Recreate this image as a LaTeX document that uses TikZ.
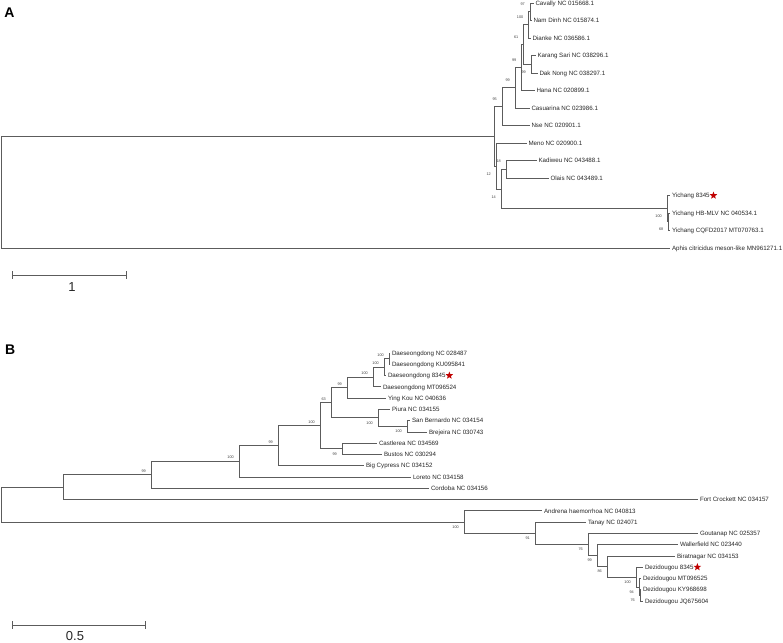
\documentclass[tikz,border=0pt]{standalone}
\usepackage{fontspec}
\setmainfont{Liberation Sans}
\usetikzlibrary{calc, shapes.geometric}

\definecolor{branchgray}{HTML}{5C5C5C}
\definecolor{starred}{HTML}{C00000}

\begin{document}
\begin{tikzpicture}[x=1pt, y=-1pt,
		branch/.style = {draw=branchgray, line width=0.8pt},
		taxon/.style = {anchor=west, inner xsep=1.8pt, inner ysep=0pt, text height=4.5pt, text depth=0pt, text=black!85, font=\fontsize{6.2}{7}\selectfont},
		taxonB/.style = {taxon, text height=4.4pt, font=\fontsize{6.2}{7}\selectfont},
		boot/.style = {anchor=east, inner sep=0pt, text=black!75, font=\fontsize{3.8}{4}\selectfont, xshift=-5pt},
		bootup/.style = {boot, yshift=7.6pt},
		bootdown/.style = {boot, yshift=-7.8pt},
		bootupB/.style = {boot, yshift=3.8pt},
		bootdownB/.style = {boot, yshift=-5pt},
		starmark/.style = {star, star points=5, star point ratio=2.4, fill=starred, inner sep=0pt, minimum size=8pt, anchor=west},
		panel/.style = {inner sep=0pt, font=\fontsize{14}{14}\selectfont\bfseries},
		barlabel/.style = {inner sep=0pt, text=black!85, font=\fontsize{13}{13}\selectfont}
	]
	\useasboundingbox (0,0) rectangle (783,642);

	% ---------- A ----------
	\node[panel] (labA) at (9.5,13) {A};

	\begin{scope}
		\node[taxon] (cavally)   at (533.5,3)     {Cavally NC 015668.1};
		\node[taxon] (namdinh)   at (531.5,20.5)  {Nam Dinh NC 015874.1};
		\node[taxon] (dianke)    at (530.5,38)    {Dianke NC 036586.1};
		\node[taxon] (karang)    at (535.5,55.5)  {Karang Sari NC 038296.1};
		\node[taxon] (daknong)   at (537.5,73)    {Dak Nong NC 038297.1};
		\node[taxon] (hana)      at (534.5,90.5)  {Hana NC 020899.1};
		\node[taxon] (casuarina) at (529.5,108)   {Casuarina NC 023986.1};
		\node[taxon] (nse)       at (529.5,125.5) {Nse NC 020901.1};
		\node[taxon] (meno)      at (526.5,143)   {Meno NC 020900.1};
		\node[taxon] (kadiweu)   at (536.5,160.5) {Kadiweu NC 043488.1};
		\node[taxon] (olais)     at (548.5,178)   {Olais NC 043489.1};
		\node[taxon] (yich)      at (670,195.5)   {Yichang 8345};
		\node[taxon] (yichHB)    at (670,213)     {Yichang HB-MLV NC 040534.1};
		\node[taxon] (yichCQ)    at (670,230.5)   {Yichang CQFD2017 MT070763.1};
		\node[taxon] (aphis)     at (670,248)     {Aphis citricidus meson-like MN961271.1};
		\node[starmark] (starA) at ([xshift=-0.8pt]yich.east) {};
	\end{scope}

	\coordinate (rootA) at (1,192.15);
	\coordinate (topA)  at (494,136.3);
	\coordinate (n95)   at (502,106.65);
	\coordinate (n99c)  at (515,87.8);
	\coordinate (n99b)  at (521.5,67.55);
	\coordinate (n61)   at (523.5,44.6);
	\coordinate (nCND)  at (528.5,24.9);
	\coordinate (nCN)   at (530,11.75);
	\coordinate (nKD)   at (531,64.25);
	\coordinate (n12)   at (496,165.95);
	\coordinate (n14)   at (501,188.9);
	\coordinate (nKO)   at (506,169.25);
	\coordinate (nY8)   at (667,208.6);
	\coordinate (nYC)   at (668.5,221.75);

	\begin{scope}[branch]
		\draw (rootA) |- (topA) (rootA) |- (aphis);
		\draw (topA) |- (n95) (topA) |- (n12);
		\draw (n95) |- (n99c) (n95) |- (nse);
		\draw (n99c) |- (n99b) (n99c) |- (casuarina);
		\draw (n99b) |- (n61) (n99b) |- (hana);
		\draw (n61) |- (nCND) (n61) |- (nKD);
		\draw (nCND) |- (nCN) (nCND) |- (dianke);
		\draw (nCN) |- (cavally) (nCN) |- (namdinh);
		\draw (nKD) |- (karang) (nKD) |- (daknong);
		\draw (n12) |- (meno) (n12) |- (n14);
		\draw (n14) |- (nKO) (n14) |- (nY8);
		\draw (nKO) |- (kadiweu) (nKO) |- (olais);
		\draw (nY8) |- (yich) (nY8) |- (nYC);
		\draw (nYC) |- (yichHB) (nYC) |- (yichCQ);
	\end{scope}

	\node[bootup]   at (nCN)  {97};
	\node[bootup]   at (nCND) {100};
	\node[bootup]   at (n61)  {61};
	\node[bootup]   at (n99b) {99};
	\node[bootdown] at (nKD)  {99};
	\node[bootup]   at (n99c) {99};
	\node[bootup]   at (n95)  {95};
	\node[bootup]   at (nKO)  {18};
	\node[bootdown] at (n12)  {12};
	\node[bootdown] at (n14)  {14};
	\node[bootdown] at (nY8)  {100};
	\node[bootdown] at (nYC)  {68};

	\coordinate (barA1) at (12,275);
	\coordinate (barA2) at (127,275);
	\begin{scope}[|-|]
		\draw[branch] (barA1) -- (barA2);
	\end{scope}
	\node[barlabel] (barAlab) at (72,287) {1};

	% ---------- B ----------
	\node[panel] (labB) at (10.3,350) {B};

	\begin{scope}
		\node[taxonB] (dae028)      at (390,353)   {Daeseongdong NC 028487};
		\node[taxonB] (daeKU)       at (390,364.3) {Daeseongdong KU095841};
		\node[taxonB] (dae8345)     at (386,375.5) {Daeseongdong 8345};
		\node[taxonB] (daeMT)       at (381,386.8) {Daeseongdong MT096524};
		\node[taxonB] (yingkou)     at (386,398.1) {Ying Kou NC 040636};
		\node[taxonB] (piura)       at (390,409.4) {Piura NC 034155};
		\node[taxonB] (sanbern)     at (410,420.6) {San Bernardo NC 034154};
		\node[taxonB] (brejeira)    at (427,431.9) {Brejeira NC 030743};
		\node[taxonB] (castlerea)   at (377,443.2) {Castlerea NC 034569};
		\node[taxonB] (bustos)      at (382,454.4) {Bustos NC 030294};
		\node[taxonB] (bigcypress)  at (364,465.7) {Big Cypress NC 034152};
		\node[taxonB] (loreto)      at (411,477)   {Loreto NC 034158};
		\node[taxonB] (cordoba)     at (429,488.2) {Cordoba NC 034156};
		\node[taxonB] (fortcrock)   at (698,499.5) {Fort Crockett NC 034157};
		\node[taxonB] (andrena)     at (542,510.8) {Andrena haemorrhoa NC 040813};
		\node[taxonB] (tanay)       at (586,522.1) {Tanay NC 024071};
		\node[taxonB] (goutanap)    at (698,533.3) {Goutanap NC 025357};
		\node[taxonB] (wallerfield) at (678,544.6) {Wallerfield NC 023440};
		\node[taxonB] (biratnagar)  at (675,555.9) {Biratnagar NC 034153};
		\node[taxonB] (dez8345)     at (643,567.1) {Dezidougou 8345};
		\node[taxonB] (dezMT)       at (641,578.4) {Dezidougou MT096525};
		\node[taxonB] (dezKY)       at (641,589.7) {Dezidougou KY968698};
		\node[taxonB] (dezJQ)       at (643,601)   {Dezidougou JQ675604};
		\node[starmark] (starB1) at ([xshift=-0.8pt]dae8345.east) {};
		\node[starmark] (starB2) at ([xshift=-0.8pt]dez8345.east) {};
	\end{scope}

	\coordinate (rootB) at (1,504.6);
	\coordinate (n63)   at (63,487.1);
	\coordinate (n151)  at (151,474.8);
	\coordinate (n239)  at (239,461.4);
	\coordinate (n278)  at (278,445.7);
	\coordinate (n320)  at (320,425.7);
	\coordinate (n331)  at (331,402.7);
	\coordinate (n347)  at (347,387.5);
	\coordinate (n373)  at (373,376.9);
	\coordinate (n384)  at (384,367.1);
	\coordinate (n389)  at (389,358.65);
	\coordinate (n378)  at (378,417.8);
	\coordinate (nSB)   at (407,426.25);
	\coordinate (n342)  at (342,448.8);
	\coordinate (n464)  at (464,522);
	\coordinate (n535)  at (535,533.25);
	\coordinate (n588)  at (588,544.4);
	\coordinate (n597)  at (597,555.5);
	\coordinate (n607)  at (607,566.45);
	\coordinate (nDz)   at (636,577);
	\coordinate (nDzM)  at (639,586.9);
	\coordinate (nDzKJ) at (640,595.35);

	\begin{scope}[branch]
		\draw (rootB) |- (n63) (rootB) |- (n464);
		\draw (n63) |- (n151) (n63) |- (fortcrock);
		\draw (n151) |- (n239) (n151) |- (cordoba);
		\draw (n239) |- (n278) (n239) |- (loreto);
		\draw (n278) |- (n320) (n278) |- (bigcypress);
		\draw (n320) |- (n331) (n320) |- (n342);
		\draw (n331) |- (n347) (n331) |- (n378);
		\draw (n347) |- (n373) (n347) |- (yingkou);
		\draw (n373) |- (n384) (n373) |- (daeMT);
		\draw (n384) |- (n389) (n384) |- (dae8345);
		\draw (n389) |- (dae028) (n389) |- (daeKU);
		\draw (n378) |- (piura) (n378) |- (nSB);
		\draw (nSB) |- (sanbern) (nSB) |- (brejeira);
		\draw (n342) |- (castlerea) (n342) |- (bustos);
		\draw (n464) |- (andrena) (n464) |- (n535);
		\draw (n535) |- (tanay) (n535) |- (n588);
		\draw (n588) |- (goutanap) (n588) |- (n597);
		\draw (n597) |- (wallerfield) (n597) |- (n607);
		\draw (n607) |- (biratnagar) (n607) |- (nDz);
		\draw (nDz) |- (dez8345) (nDz) |- (nDzM);
		\draw (nDzM) |- (dezMT) (nDzM) |- (nDzKJ);
		\draw (nDzKJ) |- (dezKY) (nDzKJ) |- (dezJQ);
	\end{scope}

	\node[bootupB]   at (n389)  {100};
	\node[bootupB]   at (n384)  {100};
	\node[bootupB]   at (n373)  {100};
	\node[bootupB]   at (n347)  {99};
	\node[bootupB]   at (n331)  {63};
	\node[bootupB]   at (n320)  {100};
	\node[bootupB]   at (n278)  {99};
	\node[bootupB]   at (n239)  {100};
	\node[bootupB]   at (n151)  {99};
	\node[bootdownB] at (n378)  {100};
	\node[bootdownB] at (nSB)   {100};
	\node[bootdownB] at (n342)  {99};
	\node[bootdownB] at (n464)  {100};
	\node[bootdownB] at (n535)  {91};
	\node[bootdownB] at (n588)  {76};
	\node[bootdownB] at (n597)  {99};
	\node[bootdownB] at (n607)  {86};
	\node[bootdownB] at (nDz)   {100};
	\node[bootdownB] at (nDzM)  {94};
	\node[bootdownB] at (nDzKJ) {76};

	\coordinate (barB1) at (12,625);
	\coordinate (barB2) at (146,625);
	\begin{scope}[|-|]
		\draw[branch] (barB1) -- (barB2);
	\end{scope}
	\node[barlabel] (barBlab) at (75,636) {0.5};
\end{tikzpicture}
\end{document}
